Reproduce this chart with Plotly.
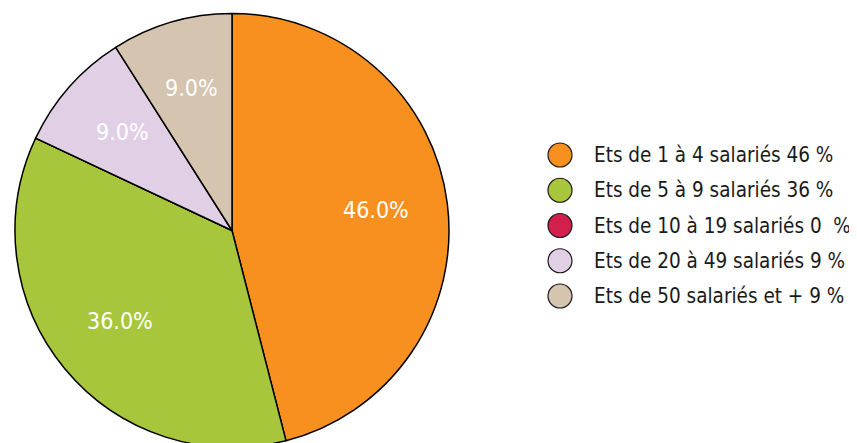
import math
import plotly.graph_objects as go

labels = ["Ets de 1 à 4 salariés 46 %", "Ets de 5 à 9 salariés 36 %", "Ets de 10 à 19 salariés 0  %",
          "Ets de 20 à 49 salariés 9 %", "Ets de 50 salariés et + 9 %"]
values = [46, 36, 0, 9, 9]
colors = ["#F7901E", "#A8C63B", "#D21F4B", "#E1CFE5", "#D4C4B0"]

W, H = 857, 443
OFF = 8          # body margin of the page
MT = 2
FONT = "DejaVu Sans Condensed, Liberation Sans Narrow, Roboto, sans-serif"

# pie geometry (page pixels)
CX, CY, R = 232, 227, 217
plot_h = H - MT

def px_x(px):
    return (px - OFF) / W

def px_y(py):
    return (H + OFF - py) / plot_h

fig = go.Figure()
fig.add_trace(go.Pie(
    labels=labels, values=values, sort=False, direction="clockwise", rotation=0,
    marker=dict(colors=colors, line=dict(color="#000000", width=1.5)),
    textinfo="none", showlegend=False, hoverinfo="label+percent",
    domain=dict(x=[px_x(CX - R), px_x(CX + R)], y=[0, 1]),
))

annos, shapes = [], []
total = sum(values)
cum = 0
for v in values:
    if v > 0:
        mid = (cum + v / 2) / total * 2 * math.pi
        tx = CX + 0.67 * R * math.sin(mid)
        ty = CY - 0.67 * R * math.cos(mid) + 1
        annos.append(dict(x=px_x(tx), y=px_y(ty), xref="paper", yref="paper",
                          text=f"{v / total * 100:.1f}%", showarrow=False,
                          xanchor="center", yanchor="middle",
                          font=dict(family=FONT, size=23, color="white")))
    cum += v

row0, dy = 155, 35.25
for i, (lab, col) in enumerate(zip(labels, colors)):
    yc = row0 + i * dy
    shapes.append(dict(type="circle", xref="paper", yref="paper", xsizemode="pixel", ysizemode="pixel",
                       xanchor=px_x(560), yanchor=px_y(yc), x0=-12, x1=12, y0=-12, y1=12,
                       fillcolor=col, line=dict(color="#1a1a1a", width=1.2)))
    annos.append(dict(x=px_x(592), y=px_y(yc), xref="paper", yref="paper", text=lab, showarrow=False,
                      xanchor="left", yanchor="middle", font=dict(family=FONT, size=20.5, color="#1a1a1a")))

fig.update_layout(width=W, height=H, margin=dict(l=0, r=0, t=MT, b=0),
                  paper_bgcolor="white", plot_bgcolor="white",
                  shapes=shapes, annotations=annos)
fig.write_html("out.html")
